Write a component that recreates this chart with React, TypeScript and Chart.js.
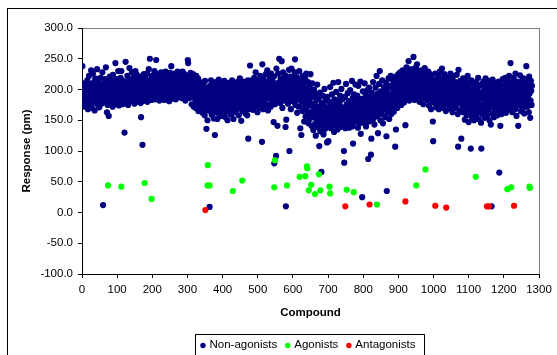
import React, { useEffect, useRef } from "react";
import { Chart, registerables } from "chart.js";

Chart.register(...registerables);

// Response (pm) of each non-agonist compound, compound number = position + 1
const nonAgonistResponses: number[] = [
  238, 192, 205, 185, 178, 199, 210, 188, 172, 196, 183, 207, 176, 193, 215, 186, 168, 201, 190, 222,
  181, 197, 174, 209, 187, 231, 195, 170, 203, 184, 226, 192, 179, 212, 188, 166, 200, 218, 183, 194,
  205, 189, 233, 176, 198, 214, 185, 202, 171, 208, 192, 181, 219, 196, 177, 204, 188, 228, 199, 12,
  186, 210, 194, 179, 217, 201, 188, 236, 183, 206, 163, 197, 175, 212, 190, 157, 203, 184, 221, 193,
  178, 200, 215, 187, 196, 209, 172, 224, 190, 182, 205, 198, 176, 213, 243, 188, 201, 180, 217, 194,
  207, 185, 230, 196, 174, 211, 189, 203, 180, 219, 198, 230, 186, 205, 176, 214, 192, 182, 208, 199,
  130, 190, 203, 245, 179, 212, 196, 184, 222, 201, 175, 209, 193, 186, 235, 198, 181, 216, 204, 190,
  210, 228, 195, 183, 206, 219, 188, 201, 177, 214, 197, 230, 185, 208, 192, 224, 180, 203, 216, 189,
  199, 212, 185, 207, 221, 194, 178, 155, 203, 217, 190, 110, 209, 186, 198, 225, 182, 213, 196, 204,
  218, 188, 207, 195, 226, 180, 212, 201, 191, 233, 204, 186, 250, 197, 215, 209, 183, 221, 200, 192,
  206, 223, 189, 214, 198, 230, 184, 210, 195, 219, 248, 202, 187, 225, 208, 193, 216, 199, 211, 182,
  203, 220, 194, 212, 228, 186, 207, 199, 217, 190, 224, 205, 211, 183, 219, 197, 208, 229, 192, 214,
  200, 188, 215, 206, 223, 195, 210, 181, 218, 203, 227, 192, 213, 238, 199, 208, 185, 221, 196, 212,
  205, 217, 190, 226, 198, 211, 184, 220, 207, 195, 214, 229, 188, 203, 216, 199, 224, 209, 192, 218,
  201, 223, 186, 212, 197, 229, 206, 190, 218, 203, 225, 194, 211, 182, 220, 207, 199, 215, 188, 209,
  248, 243, 196, 223, 205, 186, 214, 198, 227, 191, 208, 176, 219, 202, 189, 225, 197, 172, 210, 194,
  215, 183, 201, 170, 222, 192, 178, 206, 186, 218, 165, 199, 181, 208, 174, 212, 190, 168, 203, 185,
  176, 198, 162, 210, 183, 171, 205, 191, 158, 214, 179, 195, 166, 136, 188, 172, 150, 200, 184, 168,
  193, 177, 9, 206, 165, 187, 215, 174, 159, 197, 182, 209, 168, 190, 153, 201, 178, 126, 186, 170,
  212, 163, 195, 181, 152, 204, 188, 173, 216, 160, 192, 179, 207, 167, 185, 198, 157, 211, 176, 189,
  170, 203, 185, 162, 214, 178, 193, 155, 199, 182, 208, 168, 187, 150, 196, 175, 211, 183, 164, 201,
  188, 172, 206, 159, 193, 180, 215, 166, 198, 184, 152, 204, 177, 191, 163, 209, 186, 170, 197, 181,
  212, 168, 189, 175, 202, 158, 194, 183, 218, 171, 186, 199, 149, 207, 180, 192, 165, 213, 177, 196,
  184, 205, 170, 193, 161, 210, 187, 176, 200, 158, 189, 215, 120, 182, 203, 168, 196, 239, 179, 208,
  191, 174, 215, 186, 201, 167, 210, 194, 181, 219, 172, 206, 188, 228, 197, 176, 212, 185, 163, 203,
  179, 214, 192, 170, 206, 187, 222, 198, 175, 209, 183, 115, 241, 195, 168, 217, 190, 204, 178, 212,
  196, 184, 225, 171, 207, 190, 231, 199, 166, 213, 186, 202, 176, 219, 193, 208, 172, 226, 188, 200,
  215, 182, 204, 193, 147, 221, 80, 199, 176, 210, 188, 92, 234, 180, 203, 141, 195, 226, 184, 211,
  250, 192, 205, 178, 218, 197, 186, 246, 209, 170, 201, 228, 189, 215, 182, 207, 195, 223, 139, 10,
  151, 204, 187, 216, 193, 177, 210, 199, 232, 100, 185, 221, 196, 168, 208, 234, 190, 213, 181, 203,
  219, 186, 206, 194, 228, 249, 175, 211, 198, 183, 220, 162, 204, 190, 215, 172, 197, 230, 184, 207,
  137, 193, 214, 126, 180, 203, 165, 222, 188, 170, 209, 148, 195, 178, 218, 156, 190, 226, 167, 201,
  182, 160, 212, 145, 194, 174, 205, 152, 186, 225, 163, 198, 141, 177, 210, 155, 188, 134, 169, 200,
  158, 176, 144, 193, 125, 166, 183, 151, 208, 139, 172, 160, 148, 186, 108, 155, 195, 132, 168, 146,
  66, 178, 153, 141, 190, 162, 127, 174, 149, 201, 158, 136, 183, 165, 145, 171, 114, 188, 152, 139,
  116, 163, 180, 147, 168, 204, 155, 137, 176, 160, 192, 143, 170, 152, 211, 165, 131, 184, 158, 146,
  175, 141, 196, 161, 150, 182, 135, 168, 212, 156, 144, 178, 163, 190, 139, 172, 153, 201, 148, 166,
  184, 158, 143, 170, 100, 81, 152, 188, 137, 165, 209, 149, 176, 160, 142, 194, 167, 155, 181, 138,
  171, 150, 199, 162, 145, 178, 157, 214, 140, 186, 112, 166, 153, 192, 175, 147, 163, 208, 158, 183,
  149, 172, 190, 161, 138, 206, 168, 155, 181, 145, 176, 213, 128, 164, 185, 152, 25, 171, 197, 159,
  180, 146, 166, 210, 175, 158, 192, 140, 170, 185, 154, 199, 163, 87, 177, 148, 203, 168, 188, 157,
  172, 94, 120, 195, 161, 182, 150, 212, 176, 165, 190, 143, 185, 170, 203, 156, 180, 222, 167, 193,
  158, 129, 188, 175, 209, 162, 230, 181, 150, 197, 172, 186, 160, 215, 178, 145, 192, 168, 204, 183,
  170, 196, 155, 185, 211, 124, 35, 178, 200, 163, 190, 218, 175, 152, 206, 184, 169, 222, 192, 160,
  187, 205, 173, 215, 181, 198, 164, 209, 186, 176, 107, 221, 135, 194, 180, 212, 170, 201, 189, 225,
  196, 216, 183, 207, 228, 190, 212, 175, 222, 200, 186, 231, 205, 193, 218, 179, 209, 225, 188, 142,
  214, 199, 236, 185, 208, 220, 193, 229, 246, 204, 182, 217, 197, 226, 210, 188, 233, 202, 215, 191,
  224, 206, 253, 195, 218, 183, 229, 210, 200, 236, 187, 214, 241, 197, 222, 205, 191, 230, 213, 180,
  208, 226, 194, 217, 203, 231, 185, 212, 199, 224, 176, 209, 219, 190, 235, 201, 215, 186, 227, 197,
  212, 183, 220, 204, 229, 192, 174, 216, 200, 225, 187, 208, 168, 219, 196, 210, 181, 148, 116, 203,
  190, 214, 178, 205, 226, 184, 199, 171, 216, 193, 207, 180, 222, 196, 168, 211, 187, 229, 201, 175,
  209, 192, 218, 234, 183, 204, 170, 214, 197, 186, 225, 179, 208, 193, 165, 217, 188, 202, 176, 213,
  195, 181, 220, 203, 169, 211, 187, 226, 198, 176, 207, 190, 215, 163, 200, 184, 222, 172, 209, 194,
  183, 212, 170, 201, 189, 224, 177, 196, 160, 107, 232, 185, 207, 193, 166, 214, 180, 199, 120, 188,
  205, 174, 191, 218, 163, 199, 182, 210, 151, 187, 170, 214, 195, 158, 203, 179, 222, 166, 190, 147,
  184, 208, 161, 196, 173, 104, 189, 215, 155, 178, 200, 167, 186, 211, 150, 193, 174, 205, 162, 181,
  212, 158, 190, 170, 199, 183, 219, 152, 177, 194, 164, 206, 185, 172, 146, 104, 188, 209, 160, 196,
  175, 213, 167, 189, 154, 201, 180, 218, 163, 192, 171, 208, 157, 185, 199, 168, 214, 177, 150, 193,
  182, 206, 143, 172, 10, 195, 161, 216, 186, 175, 201, 155, 190, 168, 210, 179, 164, 197, 184, 171,
  205, 158, 192, 176, 213, 166, 65, 184, 199, 141, 173, 208, 187, 160, 195, 178, 217, 169, 190, 182,
  203, 171, 196, 219, 180, 162, 209, 188, 175, 214, 193, 167, 200, 184, 222, 177, 191, 206, 243, 170,
  198, 185, 212, 163, 204, 190, 176, 219, 195, 181, 208, 168, 226, 186, 199, 157, 213, 178, 192, 205,
  141, 188, 210, 174, 197, 223, 183, 165, 206, 192, 177, 215, 200, 186, 170, 218, 195, 161, 208, 184,
  196, 213, 179, 238, 190, 205, 172, 216, 187, 200, 163, 221, 193, 209, 154, 182, 214, 198, 175, 206,
];

const agonistCompounds: number[] = [
  74, 112, 178, 198, 358, 357, 363, 429, 456, 547, 549, 583, 619, 635, 640, 641, 652, 645, 663, 674,
  678, 704, 706, 753, 773, 839, 951, 977, 1120, 1210, 1221, 1273, 1274,
];
const agonistResponses: number[] = [
  44, 42, 48, 22, 77, 44, 44, 35, 52, 41, 85, 44, 58, 59, 75, 72, 45, 36, 30, 62,
  36, 42, 31, 37, 33, 13, 44, 70, 58, 38, 41, 42, 40,
];

const antagonistCompounds: number[] = [351, 749, 818, 920, 1005, 1036, 1152, 1158, 1229];
const antagonistResponses: number[] = [4, 10, 13, 18, 11, 8, 10, 10, 11];

const seriesNames = ["Non-agonists", "Agonists", "Antagonists"];
const seriesColors = ["#000080", "#00FF00", "#FF0000"];

const xMin = 0, xMax = 1300, xStep = 100;
const yMin = -100, yMax = 300, yStep = 50;

const FONT = '"Liberation Sans", Arial, sans-serif';

const framePlugin = {
  id: "excelFrame",
  beforeDraw(chart: any) {
    const { ctx, chartArea: a } = chart;
    ctx.save();
    ctx.fillStyle = "#ffffff";
    ctx.fillRect(0, 0, chart.width, chart.height);
    ctx.strokeStyle = "#000000";
    ctx.lineWidth = 1;
    ctx.strokeRect(7.5, 8.5, 800, 500);
    ctx.strokeStyle = "#808080";
    ctx.strokeRect(Math.round(a.left) + 0.5, Math.round(a.top) + 0.5, Math.round(a.right - a.left), Math.round(a.bottom - a.top));
    ctx.restore();
  },
  afterDraw(chart: any) {
    const { ctx } = chart;
    ctx.save();
    ctx.strokeStyle = "#000000";
    ctx.lineWidth = 1;
    ctx.fillStyle = "#ffffff";
    ctx.fillRect(195.5, 334.5, 229, 40);
    ctx.strokeRect(195.5, 334.5, 229, 40);
    ctx.font = `11.5px ${FONT}`;
    ctx.textBaseline = "middle";
    ctx.textAlign = "left";
    const cy = 344.5;
    let x = 203;
    chart.data.datasets.forEach((ds: any) => {
      ctx.fillStyle = ds.backgroundColor;
      ctx.beginPath();
      ctx.arc(x, cy + 1, 2.7, 0, Math.PI * 2);
      ctx.fill();
      ctx.fillStyle = "#000000";
      ctx.fillText(ds.label, x + 6.5, cy);
      x += 6.5 + ctx.measureText(ds.label).width + 10.5;
    });
    ctx.restore();
  },
};

export default function App() {
  const canvasRef = useRef<HTMLCanvasElement | null>(null);

  useEffect(() => {
    if (!canvasRef.current) return;
    const nonAgonistPoints = nonAgonistResponses.map((y, i) => ({ x: i + 1, y }));
    const agonistPoints = agonistCompounds.map((x, i) => ({ x, y: agonistResponses[i] }));
    const antagonistPoints = antagonistCompounds.map((x, i) => ({ x, y: antagonistResponses[i] }));
    const pointsList = [nonAgonistPoints, agonistPoints, antagonistPoints];

    const chart = new Chart(canvasRef.current, {
      type: "scatter",
      data: {
        datasets: pointsList.map((pts, i) => ({
          label: seriesNames[i],
          data: pts,
          backgroundColor: seriesColors[i],
          borderColor: seriesColors[i],
          pointRadius: 3.1,
          pointBorderWidth: 0,
          pointHoverRadius: 3.1,
          order: 2 - i,
        })),
      },
      options: {
        animation: false,
        responsive: false,
        devicePixelRatio: 1,
        events: [],
        layout: { padding: { left: 0, right: 18, top: 28, bottom: 0 } },
        plugins: {
          legend: { display: false },
          tooltip: { enabled: false },
        },
        scales: {
          x: {
            type: "linear",
            min: xMin,
            max: xMax,
            afterFit: (scale: any) => {
              scale.height = 81;
            },
            ticks: {
              stepSize: xStep,
              color: "#000000",
              font: { family: FONT, size: 11.5 },
              padding: 5,
              maxRotation: 0,
              autoSkip: false,
              callback: (v: any) => String(v),
            },
            grid: { display: true, drawOnChartArea: false, drawTicks: true, tickLength: 4, color: "#000000" },
            border: { display: true, color: "#000000", width: 1 },
            title: {
              display: true,
              text: "Compound",
              color: "#000000",
              font: { family: FONT, size: 11.5, weight: "bold" },
              padding: { top: 0, bottom: 35 },
            },
          },
          y: {
            type: "linear",
            min: yMin,
            max: yMax,
            afterFit: (scale: any) => {
              scale.width = 82;
            },
            ticks: {
              stepSize: yStep,
              color: "#000000",
              font: { family: FONT, size: 11.5 },
              padding: 5,
              callback: (v: any) => Number(v).toFixed(1),
            },
            grid: { display: true, drawOnChartArea: false, drawTicks: true, tickLength: 4, color: "#000000" },
            border: { display: true, color: "#000000", width: 1 },
            title: {
              display: true,
              text: "Response (pm)",
              color: "#000000",
              font: { family: FONT, size: 11.5, weight: "bold" },
              padding: { top: 20, bottom: 0 },
            },
          },
        },
      },
      plugins: [framePlugin],
    });
    return () => chart.destroy();
  }, []);

  return (
    <div style={{ position: "absolute", left: 0, top: 0, width: 557, height: 355, overflow: "hidden", background: "#fff" }}>
      <canvas ref={canvasRef} width={557} height={355} style={{ display: "block", width: 557, height: 355 }} />
    </div>
  );
}
